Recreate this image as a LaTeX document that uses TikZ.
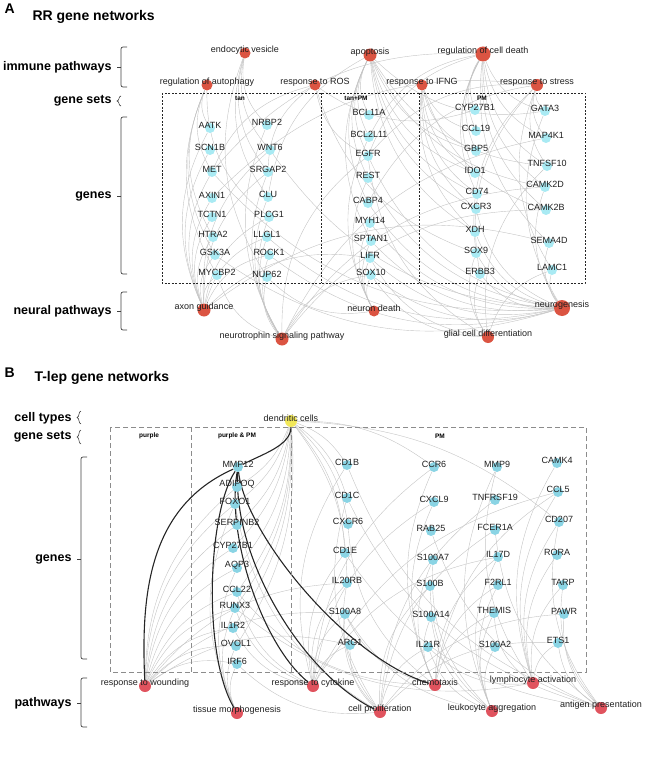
\documentclass[tikz,border=0pt]{standalone}
\usepackage{fontspec}
\setmainfont{Liberation Sans}
\usetikzlibrary{backgrounds,decorations.pathreplacing}
\definecolor{nwred}{HTML}{DB5442}
\definecolor{nwpink}{HTML}{E0535E}
\definecolor{nwcyan}{HTML}{A9EAF3}
\definecolor{nwblue}{HTML}{8AD4E4}
\definecolor{nwyellow}{HTML}{F2E85A}
\definecolor{nwedge}{HTML}{C4C4C4}

\begin{document}
\begin{tikzpicture}[
  x=1pt, y=-1pt,
  gtxt/.style={font=\fontsize{9}{10}\selectfont, yshift=2.5pt, text=black!88},
  agene/.style={circle, fill=nwcyan, minimum size=10pt, inner sep=0pt,
    label={[gtxt]center:#1}},
  bgene/.style={circle, fill=nwblue, minimum size=10pt, inner sep=0pt,
    label={[gtxt]center:#1}},
  apwy/.style={circle, fill=nwred, inner sep=0pt, label={[gtxt]center:#1}},
  bpwy/.style={circle, fill=nwpink, minimum size=12pt, inner sep=0pt,
    label={[gtxt]center:#1}},
  lk/.style={draw=nwedge, line width=0.4pt},
  hub/.style={draw=black!85, line width=1.1pt},
  abox/.style={draw=black!85, line width=0.6pt, dash pattern=on 2pt off 1.5pt},
  bbox/.style={draw=black!45, line width=0.7pt, dash pattern=on 5pt off 3pt},
  setlbl/.style={font=\bfseries\fontsize{6.5}{7}\selectfont},
  side/.style={font=\bfseries\fontsize{12.5}{14}\selectfont, anchor=east},
  brc/.style={decorate, decoration={brace, amplitude=4pt}, line width=0.6pt, draw=black!75},
  brk/.style={draw=black!75, line width=0.7pt, rounded corners=2pt},
  ttl/.style={font=\bfseries\fontsize{14}{16}\selectfont, anchor=west},
]
\useasboundingbox (0,0) rectangle (650,762);

%% ---- Panel A ----
\node[ttl] (lblA) at (1,9) {A};
\node[ttl] (ttlA) at (29,17) {RR gene networks};

\draw[abox] (162,93) rectangle (585,283);
\draw[abox] (321,93) -- (321,283);
\draw[abox] (419,93) -- (419,283);
\node[setlbl] (tan)   at (240,98) {tan};
\node[setlbl] (tanpm) at (356,98) {tan+PM};
\node[setlbl] (pma)   at (482,98) {PM};

\foreach \nm/\lbl/\px/\py in {
  aatk/AATK/210/128, scn1b/SCN1B/210/150, met/MET/212/172, axin1/AXIN1/212/198,
  tctn1/TCTN1/212/217, htra2/HTRA2/213/237, gsk3a/GSK3A/215/255, mycbp2/MYCBP2/217/275,
  nrbp2/NRBP2/267/125, wnt6/WNT6/270/150, srgap2/SRGAP2/268/172, clu/CLU/268/197,
  plcg1/PLCG1/269/217, llgl1/LLGL1/267/237, rock1/ROCK1/269/255, nup62/NUP62/267/277,
  bcl11a/BCL11A/369/115, bcl2l11/BCL2L11/369/137, egfr/EGFR/368/156, rest/REST/368/178,
  cabp4/CABP4/368/203, myh14/MYH14/370/223, sptan1/SPTAN1/371/241, lifr/LIFR/370/258,
  sox10/SOX10/371/275,
  cyp27b1/CYP27B1/475/110, ccl19/CCL19/476/131, gbp5/GBP5/476/151, ido1/IDO1/475/173,
  cd74/CD74/477/194, cxcr3/CXCR3/476/209, xdh/XDH/475/232, sox9/SOX9/476/253,
  erbb3/ERBB3/480/274,
  gata3/GATA3/545/111, map4k1/MAP4K1/546/138, tnfsf10/TNFSF10/547/166,
  camk2d/CAMK2D/545/187, camk2b/CAMK2B/546/210, sema4d/SEMA4D/549/243, lamc1/LAMC1/552/270}
  \node[agene=\lbl] (\nm) at (\px,\py) {};

\foreach \nm/\lbl/\px/\py/\sz in {
  endo/endocytic vesicle/245/53/11, apop/apoptosis/370/55/13,
  rcd/regulation of cell death/483/54/15, autoph/regulation of autophagy/207/85/11,
  ros/response to ROS/315/85/11, ifng/response to IFNG/422/85/11,
  stress/response to stress/537/85/12,
  axon/axon guidance/204/310/13, ndeath/neuron death/374/311/11,
  neurog/neurogenesis/562/308/16, ntroph/neurotrophin signaling pathway/282/339/13,
  glial/glial cell differentiation/488/337/12}
  \node[apwy=\lbl, minimum size=\sz pt] (\nm) at (\px,\py) {};

%% ---- Ejes laterales A ----
\draw[brk] (127,47) -- (121,47) -- (121,87) -- (127,87);
\draw[brk] (121,67) -- (117,67);
\draw[brc] (121,106) -- (121,96);
\draw[brk] (127,117) -- (121,117) -- (121,274) -- (127,274);
\draw[brk] (121,196) -- (117,196);
\draw[brk] (127,292) -- (121,292) -- (121,330) -- (127,330);
\draw[brk] (121,311) -- (117,311);
\node[side] (immA)  at (115,67)  {immune pathways};
\node[side] (setsA) at (115,101) {gene sets};
\node[side] (genA)  at (115,196) {genes};
\node[side] (neuA)  at (115,311) {neural pathways};

\begin{scope}[on background layer]
  \foreach \a/\b in {
    nrbp2/endo, wnt6/endo, clu/endo, nup62/endo, srgap2/endo,
    bcl11a/apop, bcl2l11/apop, egfr/apop, cd74/apop, ido1/apop, gbp5/apop, cxcr3/apop,
    tnfsf10/apop, camk2d/apop, gata3/apop, rest/apop, cabp4/apop, clu/apop, sptan1/apop, xdh/apop,
    cyp27b1/rcd, ccl19/rcd, gbp5/rcd, map4k1/rcd, tnfsf10/rcd, camk2d/rcd, camk2b/rcd, cd74/rcd,
    egfr/rcd, bcl2l11/rcd, met/rcd, gata3/rcd, sema4d/rcd, ido1/rcd,
    mycbp2/autoph, htra2/autoph, gsk3a/autoph, met/autoph, plcg1/autoph, aatk/autoph,
    egfr/ros, met/ros, srgap2/ros, cyp27b1/ros, sox9/ros,
    ido1/ifng, gbp5/ifng, cxcr3/ifng, ccl19/ifng, cd74/ifng, xdh/ifng, camk2b/ifng,
    gata3/stress, map4k1/stress, sox9/stress, erbb3/stress, lamc1/stress, cabp4/stress,
    egfr/stress, axin1/stress, tnfsf10/stress}
    \draw[lk] (\a) to[bend left=26] (\b);
  \foreach \a/\b in {
    aatk/axon, scn1b/axon, met/axon, axin1/axon, tctn1/axon, htra2/axon, gsk3a/axon,
    mycbp2/axon, rock1/axon, llgl1/axon, sema4d/axon, lifr/axon, plcg1/axon, wnt6/axon, srgap2/axon,
    nrbp2/ntroph, clu/ntroph, plcg1/ntroph, llgl1/ntroph, rock1/ntroph, nup62/ntroph,
    camk2d/ntroph, camk2b/ntroph, map4k1/ntroph, egfr/ntroph, sox10/ntroph, mycbp2/ntroph, srgap2/ntroph,
    sox10/ndeath, lifr/ndeath, sptan1/ndeath, myh14/ndeath, bcl2l11/ndeath, rest/ndeath, nup62/ndeath,
    gata3/neurog, sox9/neurog, erbb3/neurog, lamc1/neurog, sox10/neurog, lifr/neurog, rest/neurog,
    myh14/neurog, wnt6/neurog, met/neurog, gsk3a/neurog, rock1/neurog, cxcr3/neurog, xdh/neurog,
    sptan1/neurog, cabp4/neurog, egfr/neurog, camk2d/neurog, sema4d/neurog, llgl1/neurog,
    sox9/glial, erbb3/glial, sox10/glial, lifr/glial, lamc1/glial, tnfsf10/glial, egfr/glial}
    \draw[lk] (\a) to[bend right=26] (\b);
\end{scope}

%% ---- Panel B ----
\node[ttl] (lblB) at (1,373) {B};
\node[ttl] (ttlB) at (31,378) {T-lep gene networks};

\draw[bbox] (110,427) rectangle (586,672);
\draw[bbox] (191,427) -- (191,672);
\draw[bbox] (291,427) -- (291,672);
\node[setlbl] (purp)   at (149,436) {purple};
\node[setlbl] (purppm) at (237,436) {purple \& PM};
\node[setlbl] (pmb)    at (440,436) {PM};

\node[circle, fill=nwyellow, minimum size=12pt, inner sep=0pt,
  label={[gtxt]center:dendritic cells}] (dc) at (291,421) {};

\foreach \nm/\lbl/\px/\py in {
  mmp12/MMP12/238/467, adipoq/ADIPOQ/237/487, foxo1/FOXO1/235/504, serpinb2/SERPINB2/237/525,
  cyp27b1t/CYP27B1/233/548, aqp3/AQP3/237/568, ccl22/CCL22/237/592, runx3/RUNX3/235/608,
  il1r2/IL1R2/233/628, ovol1/OVOL1/236/646, irf6/IRF6/237/664,
  cd1b/CD1B/347/465, cd1c/CD1C/347/498, cxcr6/CXCR6/348/524, cd1e/CD1E/345/553,
  il20rb/IL20RB/347/583, s100a8/S100A8/345/614, arg1/ARG1/350/645,
  ccr6/CCR6/434/467, cxcl9/CXCL9/434/502, rab25/RAB25/431/531, s100a7/S100A7/433/560,
  s100b/S100B/430/586, s100a14/S100A14/431/617, il21r/IL21R/428/647,
  mmp9/MMP9/497/467, tnfrsf19/TNFRSF19/495/500, fcer1a/FCER1A/495/530, il17d/IL17D/498/557,
  f2rl1/F2RL1/498/585, themis/THEMIS/494/613, s100a2/S100A2/495/647,
  camk4/CAMK4/557/463, ccl5/CCL5/558/492, cd207/CD207/559/522, rora/RORA/557/555,
  tarp/TARP/563/585, pawr/PAWR/564/614, ets1/ETS1/558/643}
  \node[bgene=\lbl] (\nm) at (\px,\py) {};

\foreach \nm/\lbl/\px/\py in {
  wound/response to wounding/145/686, cytok/response to cytokine/313/686,
  chemo/chemotaxis/435/685, lympho/lymphocyte activation/533/683,
  tissue/tissue morphogenesis/237/713, prolif/cell proliferation/380/712,
  leuko/leukocyte aggregation/492/711, antigen/antigen presentation/601/708}
  \node[bpwy=\lbl] (\nm) at (\px,\py) {};

%% ---- Ejes laterales B ----
\draw[brc] (81,424) -- (81,411);
\draw[brc] (81,444) -- (81,430);
\draw[brk] (87,457) -- (81,457) -- (81,659) -- (87,659);
\draw[brk] (81,559) -- (77,559);
\draw[brk] (87,678) -- (81,678) -- (81,727) -- (87,727);
\draw[brk] (81,703) -- (77,703);
\node[side] (cellB) at (75,418) {cell types};
\node[side] (setsB) at (75,437) {gene sets};
\node[side] (genB)  at (75,559) {genes};
\node[side] (pwyB)  at (75,703) {pathways};

\begin{scope}[on background layer]
  \foreach \a/\b in {
    foxo1/dc, serpinb2/dc, cyp27b1t/dc, aqp3/dc, ccl22/dc, runx3/dc, il1r2/dc, ovol1/dc,
    adipoq/dc, cd1b/dc, cd1c/dc, cd1e/dc, cxcr6/dc, il20rb/dc, ccr6/dc, cd207/dc}
    \draw[lk] (\a) to[bend right=18] (\b);
  \foreach \a/\b in {
    adipoq/wound, foxo1/wound, serpinb2/wound, aqp3/wound, ccl22/wound, runx3/wound,
    il1r2/wound, ovol1/wound, irf6/wound, cyp27b1t/wound, il20rb/wound, s100a8/wound, arg1/wound,
    foxo1/tissue, ovol1/tissue, irf6/tissue, runx3/tissue, aqp3/tissue,
    ccl22/cytok, il1r2/cytok, cd1b/cytok, cxcl9/cytok, ccr6/cytok, il17d/cytok, ccl5/cytok,
    arg1/cytok, runx3/cytok, s100a8/cytok, il20rb/cytok, cd1e/cytok,
    s100a8/prolif, il21r/prolif, ets1/prolif, arg1/prolif, fcer1a/prolif, il20rb/prolif,
    s100b/prolif, tnfrsf19/prolif, pawr/prolif, foxo1/prolif, irf6/prolif, cd1c/prolif,
    ccr6/chemo, cxcl9/chemo, ccl5/chemo, cxcr6/chemo, s100a8/chemo, s100a14/chemo,
    s100a7/chemo, f2rl1/chemo, ccl22/chemo, il17d/chemo, themis/chemo,
    camk4/lympho, rora/lympho, themis/lympho, il21r/lympho, ets1/lympho, ccl5/lympho,
    cd207/lympho, tarp/lympho, runx3/lympho, mmp9/lympho,
    s100a8/leuko, s100a14/leuko, s100a2/leuko, themis/leuko, s100b/leuko, il21r/leuko,
    mmp9/leuko, s100a7/leuko, il17d/leuko, f2rl1/leuko,
    cd1b/antigen, cd1c/antigen, cd1e/antigen, cd207/antigen, fcer1a/antigen, rab25/antigen,
    tarp/antigen, ets1/antigen, pawr/antigen}
    \draw[lk] (\a) to[bend right=24] (\b);

  %% ejes fuertes desde MMP12
  \draw[hub] (dc) .. controls +(0,25) and +(22,-12) .. (mmp12);
  \draw[hub] (mmp12) .. controls +(-90,40) and +(-4,-90) .. (wound);
  \draw[hub] (mmp12) .. controls +(-30,45) and +(-35,-60) .. (tissue);
  \draw[hub] (mmp12) .. controls +(-12,70) and +(-50,-40) .. (cytok);
  \draw[hub] (mmp12) .. controls +(-5,90) and +(-80,-40) .. (prolif);
  \draw[hub] (mmp12) .. controls +(8,70) and +(-85,-25) .. (chemo);
\end{scope}

\end{tikzpicture}
\end{document}
